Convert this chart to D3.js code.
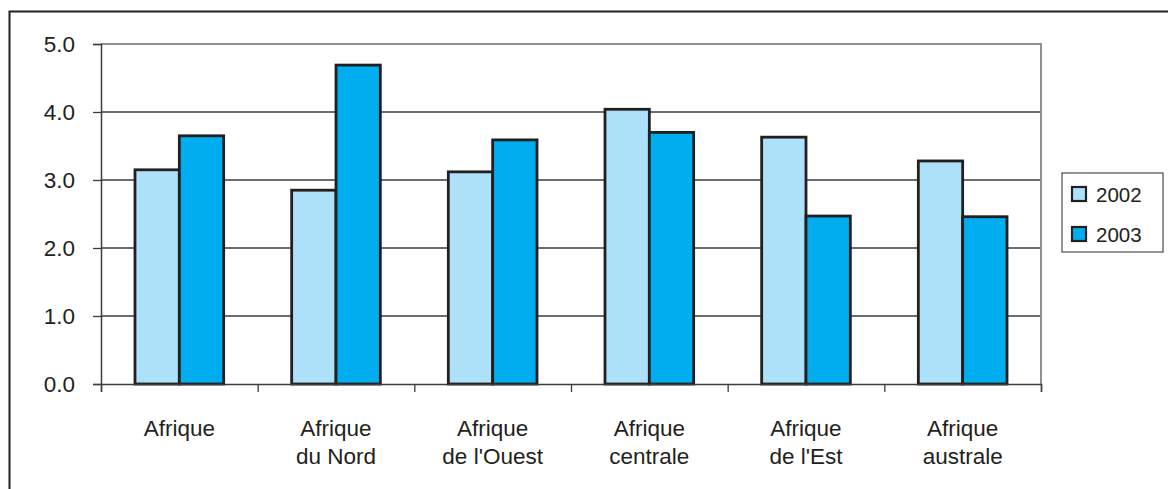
<!DOCTYPE html>
<html>
<head>
<meta charset="utf-8">
<script src="https://cdn.jsdelivr.net/npm/d3@7"></script>
<style>
  body { margin: 0; background: #fff; }
  text { font-family: "Liberation Sans", Arial, sans-serif; fill: #231f20; }
</style>
</head>
<body>
<script>
// Chart data
var regions = [["Afrique"], ["Afrique", "du Nord"], ["Afrique", "de l'Ouest"],
               ["Afrique", "centrale"], ["Afrique", "de l'Est"], ["Afrique", "australe"]];
var years = ["2002", "2003"];
var values2002 = [3.15, 2.85, 3.12, 4.04, 3.63, 3.28];
var values2003 = [3.65, 4.69, 3.59, 3.70, 2.47, 2.46];
var yTicks = [0, 1, 2, 3, 4, 5];
var colors = ["#ade1fa", "#00aeef"];

var W = 1168, H = 489;
var margin = {top: 44, left: 101, right: 127, bottom: 105};
var width = W - margin.left - margin.right,
    height = H - margin.top - margin.bottom;

var svg = d3.select("body").append("svg")
    .attr("width", W).attr("height", H);

// outer frame (left and top only visible)
svg.append("path")
    .attr("d", "M9.5," + H + "V11.5H" + W)
    .attr("fill", "none").attr("stroke", "#231f20").attr("stroke-width", 2);

var g = svg.append("g")
    .attr("transform", "translate(" + margin.left + "," + margin.top + ")");

var x0 = d3.scaleBand().domain(d3.range(regions.length)).range([0, width]).paddingInner(0).paddingOuter(0);
var x1 = d3.scaleBand().domain(years).range([x0.bandwidth() * 0.217, x0.bandwidth() * 0.783]);
var y = d3.scaleLinear().domain([0, 5]).range([height, 0]);

// gridlines
g.selectAll(".grid").data(yTicks.slice(1, -1)).enter().append("line")
    .attr("x1", 0).attr("x2", width)
    .attr("y1", function(d) { return y(d); }).attr("y2", function(d) { return y(d); })
    .attr("stroke", "#3d3d3d").attr("stroke-width", 1.3);

// plot area border (top & right)
g.append("path")
    .attr("d", "M0," + y(5) + "H" + width + "V" + height)
    .attr("fill", "none").attr("stroke", "#8c9196").attr("stroke-width", 2);

// bars
var series = [values2002, values2003];
regions.forEach(function(r, i) {
  years.forEach(function(yr, j) {
    var v = series[j][i];
    g.append("rect")
      .attr("x", x0(i) + x1(yr))
      .attr("y", y(v))
      .attr("width", x1.bandwidth())
      .attr("height", height - y(v))
      .attr("fill", colors[j])
      .attr("stroke", "#231f20")
      .attr("stroke-width", 2.8);
  });
});

// y axis
var yAxis = g.append("g")
    .call(d3.axisLeft(y).tickValues(yTicks).tickSize(8).tickPadding(18)
      .tickFormat(d3.format(".1f")));
yAxis.select(".domain").attr("stroke", "#3d3d3d").attr("stroke-width", 1.5);
yAxis.selectAll(".tick line").attr("stroke", "#3d3d3d").attr("stroke-width", 1.3);
yAxis.selectAll("text").style("font-size", "22.5px").attr("fill", "#231f20");

// x axis with ticks at band edges
var xEdge = d3.scaleLinear().domain([0, regions.length]).range([0, width]);
var xAxis = g.append("g")
    .attr("transform", "translate(0," + height + ")")
    .call(d3.axisBottom(xEdge).tickValues(d3.range(regions.length + 1)).tickSize(8).tickFormat(""));
xAxis.select(".domain").attr("stroke", "#3d3d3d").attr("stroke-width", 1.5);
xAxis.selectAll(".tick line").attr("stroke", "#3d3d3d").attr("stroke-width", 1.3);

// category labels
regions.forEach(function(lines, i) {
  var t = g.append("text")
    .attr("text-anchor", "middle")
    .attr("x", x0(i) + x0.bandwidth() / 2)
    .attr("y", height + 52)
    .style("font-size", "22.5px");
  lines.forEach(function(l, k) {
    t.append("tspan")
      .attr("x", x0(i) + x0.bandwidth() / 2)
      .attr("dy", k === 0 ? 0 : 28)
      .text(l);
  });
});

// legend
var lg = svg.append("g").attr("transform", "translate(1062,173)");
lg.append("rect").attr("width", 101).attr("height", 79)
  .attr("fill", "#fff").attr("stroke", "#5a5a5a").attr("stroke-width", 1.3);
years.forEach(function(yr, j) {
  lg.append("rect")
    .attr("x", 10).attr("y", 14 + j * 40)
    .attr("width", 14).attr("height", 14)
    .attr("fill", colors[j]).attr("stroke", "#231f20").attr("stroke-width", 2.2);
  lg.append("text")
    .attr("x", 34).attr("y", 29 + j * 40)
    .style("font-size", "20.5px")
    .text(yr);
});
</script>
</body>
</html>
